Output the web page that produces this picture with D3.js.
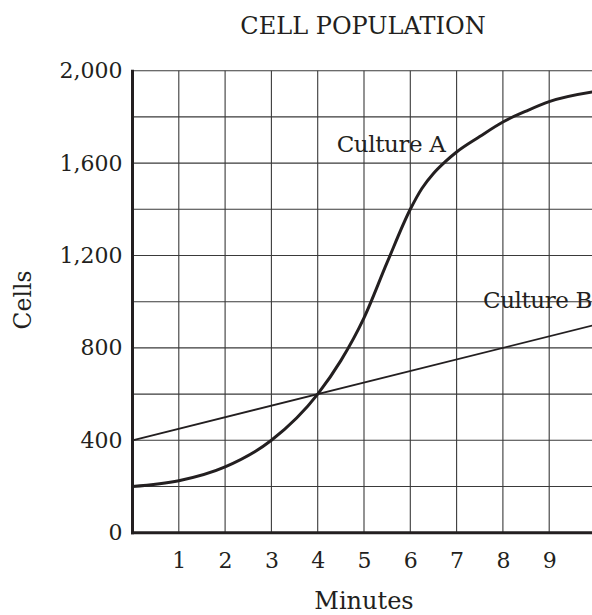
<!DOCTYPE html>
<html>
<head>
<meta charset="utf-8">
<script src="https://cdn.jsdelivr.net/npm/d3@7"></script>
<style>
  html, body { margin: 0; padding: 0; background: #fff; }
  svg { display: block; }
  text { font-family: "DejaVu Serif", "Liberation Serif", serif; fill: #231f20; }
</style>
</head>
<body>
<svg id="chart" width="592" height="615"></svg>
<script>
// Minutes on the x axis, cell counts on the y axis
const minutes = [0, 1, 2, 3, 4, 4.5, 5, 5.5, 6, 6.25, 6.5, 6.75, 7, 7.5, 8, 8.5, 9, 10];
const cultureA = [200, 225, 285, 400, 600, 745, 930, 1170, 1400, 1490, 1555, 1605, 1648, 1715, 1778, 1825, 1866, 1910];
const cultureBMinutes = [0, 10];
const cultureB = [400, 900];
const xTicks = [1, 2, 3, 4, 5, 6, 7, 8, 9];
const yTicks = [0, 400, 800, 1200, 1600, 2000];
const yGrid = [200, 400, 600, 800, 1000, 1200, 1400, 1600, 1800, 2000];
const xGrid = [1, 2, 3, 4, 5, 6, 7, 8, 9, 10];

const svg = d3.select("#chart");
const plotLeft = 132.5, plotRight = 595.5, plotTop = 70.7, plotBottom = 532.7;

const x = d3.scaleLinear().domain([0, 10]).range([plotLeft, plotRight]);
const y = d3.scaleLinear().domain([0, 2000]).range([plotBottom, plotTop]);

// grid
svg.append("g").selectAll("line").data(yGrid).join("line")
  .attr("x1", plotLeft).attr("x2", plotRight)
  .attr("y1", d => y(d)).attr("y2", d => y(d))
  .attr("stroke", "#3a3a3a").attr("stroke-width", 1.1);
svg.append("g").selectAll("line").data(xGrid).join("line")
  .attr("y1", plotTop).attr("y2", plotBottom)
  .attr("x1", d => x(d)).attr("x2", d => x(d))
  .attr("stroke", "#3a3a3a").attr("stroke-width", 1.1);

// axes
const yAxis = d3.axisLeft(y).tickValues(yTicks).tickSize(0).tickPadding(10)
  .tickFormat(d3.format(","));
const xAxis = d3.axisBottom(x).tickValues(xTicks).tickSize(0).tickPadding(20)
  .tickFormat(d3.format("d"));

const gy = svg.append("g").attr("transform", `translate(${plotLeft},0)`).call(yAxis);
gy.select(".domain").remove();
gy.selectAll("text").attr("font-size", 22).attr("font-family", null).attr("fill", "#231f20");

const gx = svg.append("g").attr("transform", `translate(0,${plotBottom})`).call(xAxis);
gx.select(".domain").remove();
gx.selectAll("text").attr("font-size", 22).attr("font-family", null).attr("fill", "#231f20");

svg.append("line").attr("x1", plotLeft).attr("x2", plotLeft).attr("y1", plotTop - 1).attr("y2", plotBottom + 1.5)
  .attr("stroke", "#231f20").attr("stroke-width", 3);
svg.append("line").attr("x1", plotLeft - 1.5).attr("x2", plotRight).attr("y1", plotBottom).attr("y2", plotBottom)
  .attr("stroke", "#231f20").attr("stroke-width", 3);

// series
const pts = (xs, ys) => xs.map((m, i) => [m, ys[i]]);
const lineA = d3.line().x(d => x(d[0])).y(d => y(d[1])).curve(d3.curveMonotoneX);
const lineB = d3.line().x(d => x(d[0])).y(d => y(d[1]));

svg.append("path").datum(pts(cultureBMinutes, cultureB)).attr("d", lineB)
  .attr("fill", "none").attr("stroke", "#231f20").attr("stroke-width", 1.8);
svg.append("path").datum(pts(minutes, cultureA)).attr("d", lineA)
  .attr("fill", "none").attr("stroke", "#231f20").attr("stroke-width", 3);

// labels
svg.append("text").attr("x", 363).attr("y", 34).attr("text-anchor", "middle")
  .attr("font-size", 24).text("CELL POPULATION");
svg.append("text").attr("x", 391).attr("y", 152).attr("text-anchor", "middle")
  .attr("font-size", 23).attr("letter-spacing", -0.4).text("Culture A");
svg.append("text").attr("x", 592).attr("y", 308).attr("text-anchor", "end")
  .attr("font-size", 23).attr("letter-spacing", -0.4).text("Culture B");
svg.append("text").attr("x", 364).attr("y", 609).attr("text-anchor", "middle")
  .attr("font-size", 24).text("Minutes");
svg.append("text").attr("transform", "translate(31,300) rotate(-90)").attr("text-anchor", "middle")
  .attr("font-size", 23.5).text("Cells");
</script>
</body>
</html>
